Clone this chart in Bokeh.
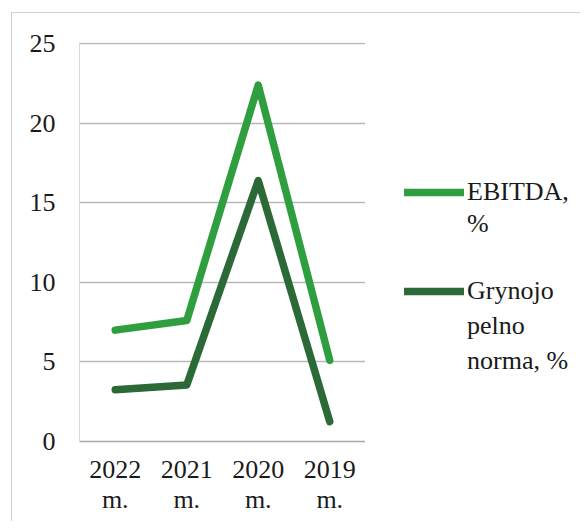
from bokeh.plotting import figure
from bokeh.models import (Legend, LegendItem, Range1d, FixedTicker, CategoricalAxis,
                          CustomJSTickFormatter)
from bokeh.layouts import row
from bokeh.embed import file_html
from bokeh.resources import INLINE

years = ["2022 m.", "2021 m.", "2020 m.", "2019 m."]
ebitda = [7.0, 7.6, 22.4, 5.1]
net_margin = [3.25, 3.55, 16.4, 1.25]
y_ticks = [0, 5, 10, 15, 20, 25]
series_names = ["EBITDA,\n%", "Grynojo\npelno\nnorma, %"]
colors = ["#2f9e3f", "#2b6a37"]

FONT = "'Liberation Serif', 'Times New Roman', serif"
FSIZE = "26px"

p = figure(x_range=years, y_range=Range1d(0, 25.08), width=353, height=508,
           output_backend="svg", toolbar_location=None,
           min_border_left=67, min_border_right=0, min_border_top=29, min_border_bottom=80)
p.outline_line_color = None
p.background_fill_color = "white"
p.border_fill_color = "white"

p.xgrid.grid_line_color = None
p.ygrid.grid_line_color = "#b8b8b8"
p.ygrid.grid_line_width = 1.3
p.yaxis.ticker = FixedTicker(ticks=y_ticks)

x2 = CategoricalAxis()
p.add_layout(x2, "below")

for ax in (p.xaxis[0], x2, p.yaxis[0]):
    ax.major_tick_line_color = None
    ax.minor_tick_line_color = None
    ax.major_label_text_font = FONT
    ax.major_label_text_font_size = FSIZE
    ax.major_label_text_color = "#1a1a1a"
p.yaxis.axis_line_color = "#d9d9d9"
p.yaxis.major_label_standoff = 18
p.xaxis[0].axis_line_color = "#a8a8a8"
p.xaxis[0].axis_line_width = 1.5
p.xaxis[0].major_label_standoff = 13
p.xaxis[0].formatter = CustomJSTickFormatter(code="return tick.split(' ')[0];")
x2.axis_line_color = None
x2.major_label_standoff = -2
x2.formatter = CustomJSTickFormatter(code="return tick.split(' ')[1];")

r1 = p.line(years, ebitda, line_color=colors[0], line_width=7.5,
            line_cap="round", line_join="round")
r2 = p.line(years, net_margin, line_color=colors[1], line_width=7.5,
            line_cap="round", line_join="round")

# legend lives in a companion panel on the right (its lines lie outside its view)
lf = figure(width=215, height=508, x_range=years, y_range=Range1d(-100, -99),
            output_backend="svg", toolbar_location=None, min_border=0)
lf.axis.visible = False
lf.grid.visible = False
lf.outline_line_color = None
lf.border_fill_color = "white"
lf.background_fill_color = "white"

series = [ebitda, net_margin]
lr = [lf.line(years, s, line_color=c, line_width=7.5, line_cap="round")
      for s, c in zip(series, colors)]
blank = lf.line(years, ebitda, line_alpha=0)

locs = [(39, 202), (39, 65)]
spacings = [2, 5]
for name, r, loc, sp in zip(series_names, lr, locs, spacings):
    lines = name.split("\n")
    items = [LegendItem(label=lines[0], renderers=[r])]
    items += [LegendItem(label=ln, renderers=[blank]) for ln in lines[1:]]
    legend = Legend(items=items, location=loc)
    legend.label_text_font = FONT
    legend.label_text_font_size = FSIZE
    legend.label_text_color = "#1a1a1a"
    legend.glyph_width = 60
    legend.glyph_height = 20
    legend.label_height = 20
    legend.label_standoff = 3
    legend.spacing = sp
    legend.padding = 0
    legend.margin = 0
    legend.border_line_color = None
    legend.background_fill_alpha = 0
    lf.add_layout(legend, "center")

layout = row(p, lf)
layout.margin = (12, 0, 0, 11)
layout.styles = {"border-top": "1.5px solid #cfcfcf", "border-left": "1.5px solid #cfcfcf"}

open("out.html", "w").write(file_html(layout, INLINE))
